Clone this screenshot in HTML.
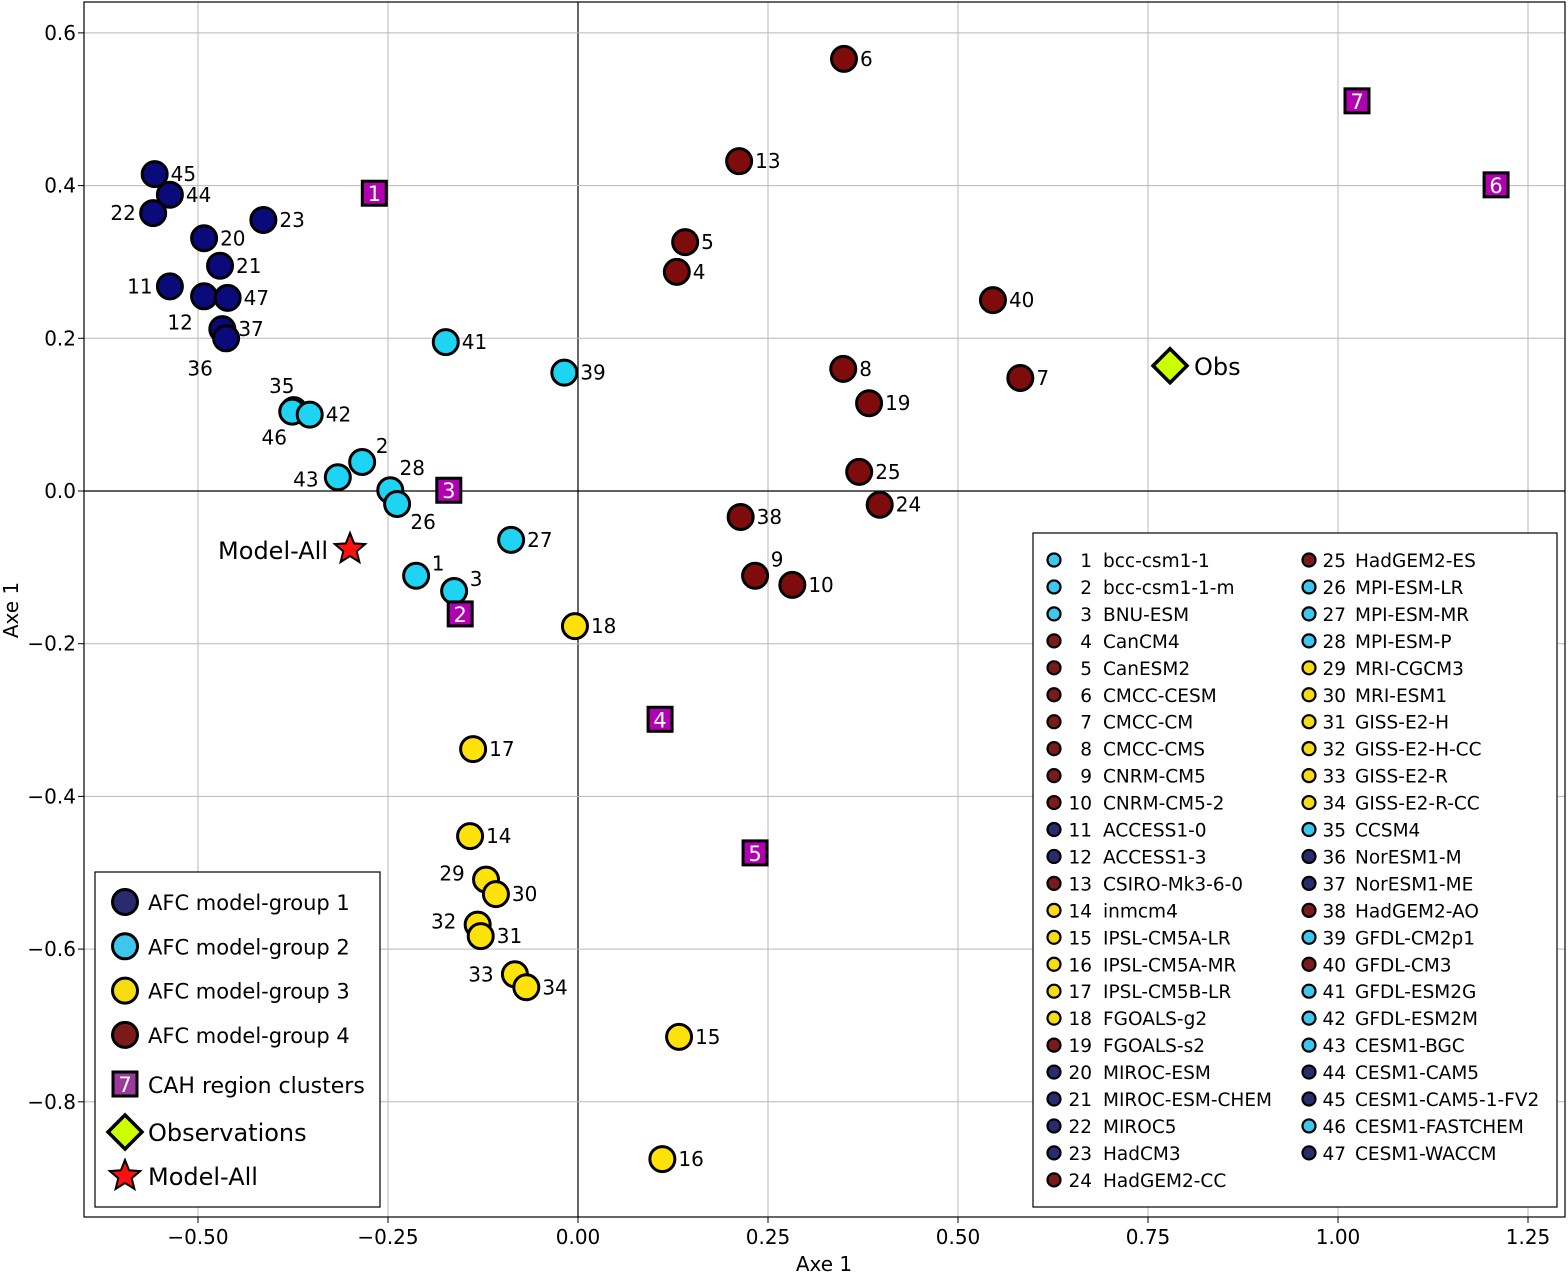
<!DOCTYPE html>
<html><head><meta charset="utf-8"><style>
html,body{margin:0;padding:0;background:#fff;}
svg{display:block;font-family:"DejaVu Sans","Liberation Sans",sans-serif;}
</style></head><body>
<svg id="chart" width="1568" height="1274" viewBox="0 0 1568 1274" xmlns="http://www.w3.org/2000/svg"></svg>
<script>
const ids=[45,44,22,20,23,21,11,12,47,37,36, 41,39,35,46,42,2,43,28,26,27,1,3, 18,17,14,29,30,32,31,33,34,15,16, 6,13,5,4,40,8,7,19,25,24,38,9,10];
const xs=[-0.557,-0.537,-0.559,-0.492,-0.414,-0.471,-0.537,-0.492,-0.461,-0.468,-0.463, -0.174,-0.018,-0.374,-0.376,-0.353,-0.284,-0.316,-0.247,-0.238,-0.088,-0.213,-0.163, -0.004,-0.138,-0.142,-0.121,-0.108,-0.132,-0.128,-0.083,-0.068,0.133,0.111, 0.350,0.212,0.141,0.130,0.546,0.349,0.582,0.383,0.370,0.397,0.214,0.233,0.282];
const ys=[0.415,0.388,0.364,0.331,0.355,0.295,0.268,0.255,0.253,0.212,0.200, 0.195,0.155,0.106,0.104,0.100,0.038,0.018,0.001,-0.017,-0.064,-0.111,-0.131, -0.177,-0.338,-0.452,-0.509,-0.528,-0.568,-0.583,-0.633,-0.650,-0.715,-0.875, 0.566,0.432,0.326,0.287,0.250,0.160,0.148,0.115,0.025,-0.018,-0.034,-0.111,-0.123];
const groups=[1,1,1,1,1,1,1,1,1,1,1, 2,2,2,2,2,2,2,2,2,2,2,2, 3,3,3,3,3,3,3,3,3,3,3, 4,4,4,4,4,4,4,4,4,4,4,4,4];
const clusterIds=[1,2,3,4,5,6,7];
const clusterX=[-0.268,-0.155,-0.170,0.108,0.233,1.208,1.025];
const clusterY=[0.390,-0.161,0.001,-0.299,-0.474,0.401,0.511];
const obsXY=[0.779,0.164];
const modelAllXY=[-0.300,-0.076];
const xTicks=[-0.50,-0.25,0.00,0.25,0.50,0.75,1.00,1.25];
const yTicks=[-0.8,-0.6,-0.4,-0.2,0.0,0.2,0.4,0.6];
const modelNames=["bcc-csm1-1","bcc-csm1-1-m","BNU-ESM","CanCM4","CanESM2","CMCC-CESM","CMCC-CM","CMCC-CMS","CNRM-CM5","CNRM-CM5-2","ACCESS1-0","ACCESS1-3","CSIRO-Mk3-6-0","inmcm4","IPSL-CM5A-LR","IPSL-CM5A-MR","IPSL-CM5B-LR","FGOALS-g2","FGOALS-s2","MIROC-ESM","MIROC-ESM-CHEM","MIROC5","HadCM3","HadGEM2-CC","HadGEM2-ES","MPI-ESM-LR","MPI-ESM-MR","MPI-ESM-P","MRI-CGCM3","MRI-ESM1","GISS-E2-H","GISS-E2-H-CC","GISS-E2-R","GISS-E2-R-CC","CCSM4","NorESM1-M","NorESM1-ME","HadGEM2-AO","GFDL-CM2p1","GFDL-CM3","GFDL-ESM2G","GFDL-ESM2M","CESM1-BGC","CESM1-CAM5","CESM1-CAM5-1-FV2","CESM1-FASTCHEM","CESM1-WACCM"];
const modelGroups=[2,2,2,4,4,4,4,4,4,4,1,1,4,3,3,3,3,3,4,1,1,1,1,4,4,2,2,2,3,3,3,3,3,3,2,1,1,4,2,4,2,2,2,1,1,2,1];

// label placement (pixel offsets, style only)
const labelPos={12:[-24,26],36:[-26,30],22:[-30,0],11:[-30,0],35:[-12,-24],46:[-18,26],2:[20,-16],43:[-32,2],28:[22,-22],26:[26,18],1:[22,-12],3:[22,-12],29:[-34,-6],32:[-34,-3],33:[-34,0],9:[22,-16]};

const L=84,R=1565,T=2,B=1217;
const X=v=>578+v*760;
const Y=v=>491-v*763.5;
const fill={1:"#0a0a7a",2:"#1fd3f3",3:"#ffe20a",4:"#7e0c0c"};
const lfill={1:"#2a2a6e",2:"#3fc6ec",3:"#f7dc14",4:"#7a1a1a"};
const svg=document.getElementById('chart');
const NS="http://www.w3.org/2000/svg";
function mk(tag,attrs,parent){const e=document.createElementNS(NS,tag);for(const k in attrs)e.setAttribute(k,attrs[k]);(parent||svg).appendChild(e);return e;}

const grid=mk('g',{});


xTicks.forEach(t=>{mk('line',{x1:X(t),x2:X(t),y1:T,y2:B,stroke:t===0?'#000':'#b8b8b8','stroke-width':t===0?1.2:1},grid);
 const tx=mk('text',{x:X(t),y:1244,'font-size':20,'text-anchor':'middle',fill:'#000'});tx.textContent=(t<0?'\u2212':'')+Math.abs(t).toFixed(2);
 
 mk('line',{x1:X(t),x2:X(t),y1:B,y2:B+6,stroke:'#000'});});
yTicks.forEach(t=>{mk('line',{x1:L,x2:R,y1:Y(t),y2:Y(t),stroke:Math.abs(t)<1e-9?'#000':'#b8b8b8','stroke-width':Math.abs(t)<1e-9?1.2:1},grid);
 const tx=mk('text',{x:76,y:Y(t)+7,'font-size':20,'text-anchor':'end',fill:'#000'});tx.textContent=(t<0?'\u2212':'')+Math.abs(t).toFixed(1);
 
 mk('line',{x1:L-6,x2:L,y1:Y(t),y2:Y(t),stroke:'#000'});});
const frame=mk('rect',{x:L,y:T,width:R-L,height:B-T,fill:'none',stroke:'#000','stroke-width':1.2});


let xl=mk('text',{x:824,y:1271,'font-size':20,'text-anchor':'middle'});xl.textContent='Axe 1';

let yl=mk('text',{x:18,y:610,'font-size':20,'text-anchor':'middle',transform:'rotate(-90 18 610)'});yl.textContent='Axe 1';


ids.forEach((id,i)=>{
 const cx=X(xs[i]),cy=Y(ys[i]);
 const c=mk('circle',{cx:cx,cy:cy,r:12.5,fill:fill[groups[i]],stroke:'#000','stroke-width':3});
 
 
 let t;
 if(labelPos[id]){t=mk('text',{x:cx+labelPos[id][0],y:cy+labelPos[id][1]+7,'font-size':20,'text-anchor':'middle'});}
 else{t=mk('text',{x:cx+16,y:cy+7,'font-size':20});}
 t.textContent=id;
 
 
});
clusterIds.forEach((id,i)=>{
 const cx=X(clusterX[i]),cy=Y(clusterY[i]);
 const r=mk('rect',{x:cx-12,y:cy-12,width:24,height:24,fill:'#b000b0',stroke:'#000','stroke-width':3});
 
 
 const t=mk('text',{x:cx,y:cy+8,'font-size':21,'text-anchor':'middle',fill:'#fff'});t.textContent=id;
 
 
});
{const cx=X(obsXY[0]),cy=Y(obsXY[1]);
 const d=mk('polygon',{points:`${cx},${cy-17} ${cx+17},${cy} ${cx},${cy+17} ${cx-17},${cy}`,fill:'#ccff00',stroke:'#000','stroke-width':3.5});
 
 const t=mk('text',{x:cx+24,y:cy+9,'font-size':24});t.textContent='Obs';
 }
function star(cx,cy,ro,ri){let p=[];for(let k=0;k<10;k++){const a=-Math.PI/2+k*Math.PI/5,r=k%2?ri:ro;p.push((cx+r*Math.cos(a)).toFixed(1)+','+(cy+r*Math.sin(a)).toFixed(1));}return p.join(' ');}
{const cx=X(modelAllXY[0]),cy=Y(modelAllXY[1]);
 const s=mk('polygon',{points:star(cx,cy,16,7),fill:'#ff1010',stroke:'#000','stroke-width':2});
 
 const t=mk('text',{x:cx-22,y:cy+10,'font-size':24,'text-anchor':'end'});t.textContent='Model-All';
 }

// left legend
const lg=mk('g',{});

mk('rect',{x:95,y:872,width:285,height:335,fill:'#fff',stroke:'#000','stroke-width':1.2},lg);
const lgText=["AFC model-group 1","AFC model-group 2","AFC model-group 3","AFC model-group 4"];
lgText.forEach((s,k)=>{const y=902+k*44.3;
 mk('circle',{cx:125,cy:y,r:12.5,fill:lfill[k+1],stroke:'#000','stroke-width':3},lg);
 const t=mk('text',{x:148,y:y+8,'font-size':21},lg);t.textContent=s;
 });
mk('rect',{x:113,y:1072,width:24,height:24,fill:'#9a3a9a',stroke:'#000','stroke-width':3},lg);
let t7=mk('text',{x:125,y:1092,'font-size':21,'text-anchor':'middle',fill:'#fff'},lg);t7.textContent='7';
let tc=mk('text',{x:148,y:1093,'font-size':22},lg);tc.textContent='CAH region clusters';

mk('polygon',{points:'125,1115 142,1132 125,1149 108,1132',fill:'#ccff00',stroke:'#000','stroke-width':3.5},lg);
let to=mk('text',{x:148,y:1141,'font-size':24},lg);to.textContent='Observations';

mk('polygon',{points:star(125,1176,16,7),fill:'#ff1010',stroke:'#000','stroke-width':2},lg);
let tm=mk('text',{x:148,y:1185,'font-size':24},lg);tm.textContent='Model-All';


// model legend
const ml=mk('g',{});

mk('rect',{x:1033,y:533,width:524,height:674,fill:'#fff',stroke:'#000','stroke-width':1.2},ml);
modelNames.forEach((n,k)=>{const col=k<24?0:1,row=k<24?k:k-24;
 const y=560+row*26.95, mx=col?1309:1054, nx=col?1346:1092, tx=col?1355:1103;
 mk('circle',{cx:mx,cy:y,r:6.5,fill:lfill[modelGroups[k]],stroke:'#000','stroke-width':2.2},ml);
 const a=mk('text',{x:nx,y:y+7,'font-size':18.5,'text-anchor':'end'},ml);a.textContent=k+1;
 const b=mk('text',{x:tx,y:y+7,'font-size':18.5},ml);b.textContent=n;
 });
</script>
</body></html>
